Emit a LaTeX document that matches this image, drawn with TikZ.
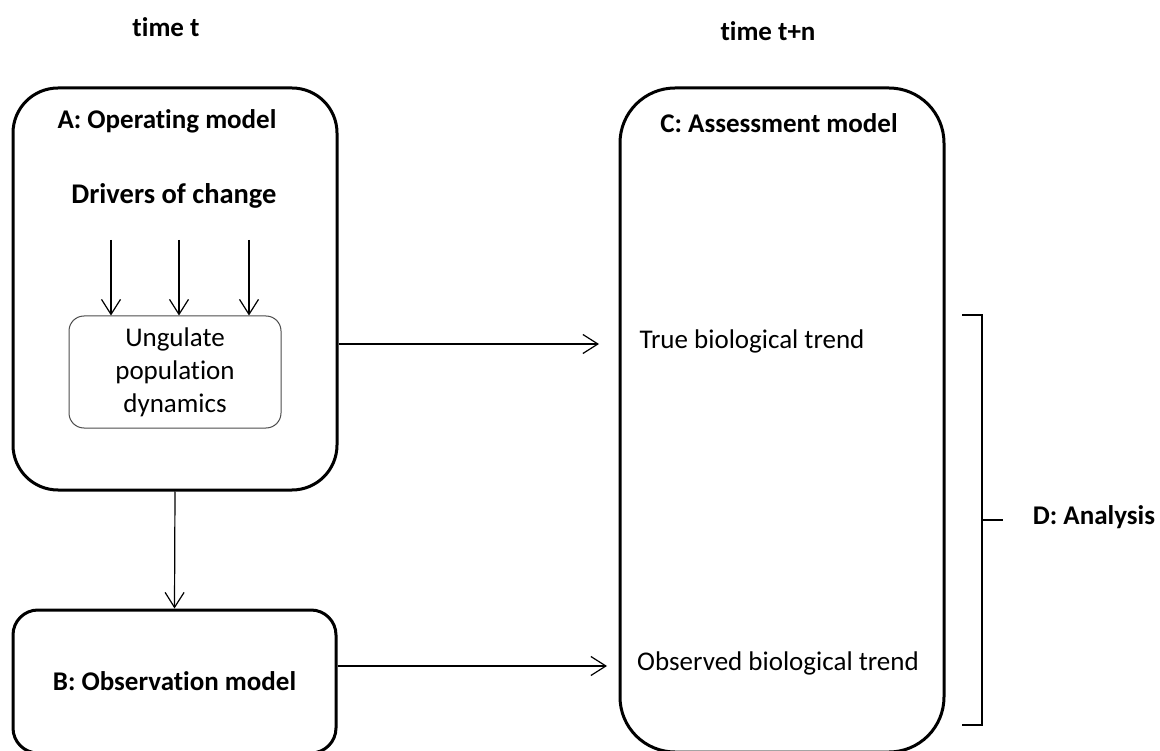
\documentclass[tikz,border=0pt]{standalone}
\usepackage{fontspec}
\setmainfont{Carlito}[Ligatures=NoCommon]
\usetikzlibrary{arrows.meta,calc}
\definecolor{LineClr}{rgb}{0,0,0}
\definecolor{InnerClr}{rgb}{0.3,0.3,0.3}

\tikzset{
  modelbox/.style={draw=LineClr,line width=3pt,rectangle,rounded corners=#1,inner sep=0pt},
  popbox/.style={draw=InnerClr,line width=1pt,rectangle,rounded corners=15pt,inner sep=0pt,align=center,font=\fontsize{27}{33}\selectfont}
}

\begin{document}
\begin{tikzpicture}[x=1pt,y=-1pt,
  txt/.style={font=\fontsize{27}{33}\selectfont,inner sep=0pt,align=center},
  hdr/.style={txt,font=\fontsize{27}{33}\selectfont\bfseries},
  arr/.style={-{Straight Barb[length=15pt,width=19pt]},line width=1.2pt,color=LineClr}]
\useasboundingbox (0,0) rectangle (1160,751);

\node[hdr] (timet) at (166,27) {time t};
\node[hdr] (timetn) at (768,31) {time t+n};

\node[modelbox=45pt,minimum width=324pt,minimum height=402pt] (A) at (175,289) {};
\node[hdr] (Alab) at (167,121) {A: Operating model};
\node[hdr,font=\fontsize{28.5}{33}\selectfont\bfseries] (drivers) at (174,196) {Drivers of change};
\node[popbox,minimum width=212pt,minimum height=112pt] (pop) at (175,372) {Ungulate\\population\\dynamics};

\node[modelbox=25pt,hdr,minimum width=323pt,minimum height=143pt] (B) at (174.5,681.5) {B: Observation model};

\node[modelbox=55pt,minimum width=324pt,minimum height=664pt] (C) at (782,420) {};
\node[hdr] (Clab) at (779,123) {C: Assessment model};
\node[txt] (truetr) at (752,341) {True biological trend};
\node[txt] (obstr) at (778,663) {Observed biological trend};

\node[hdr] (D) at (1094,517) {D: Analysis};

\coordinate (d1) at (111,240);
\coordinate (d2) at (179,240);
\coordinate (d3) at (249,240);
\coordinate (t1) at (599,344);
\coordinate (o1) at (607,666);
\coordinate (Dtop) at (962,315);
\coordinate (Dbot) at (962,725);
\coordinate (Dmid) at (1003,520);

\foreach \d in {d1,d2,d3}
  \draw[arr] (\d) -- (\d |- pop.north);
\draw[arr] (A.east |- t1) -- (t1);
\draw[arr] (A.south) -- (B.north);
\draw[arr] (B.east |- o1) -- (o1);

\draw[line width=2pt,color=LineClr] (Dtop) -- ++(20,0) |- (Dbot);
\draw[line width=2pt,color=LineClr] ($(Dtop)!0.5!(Dbot)+(20,0)$) -- (Dmid);

\end{tikzpicture}
\end{document}
